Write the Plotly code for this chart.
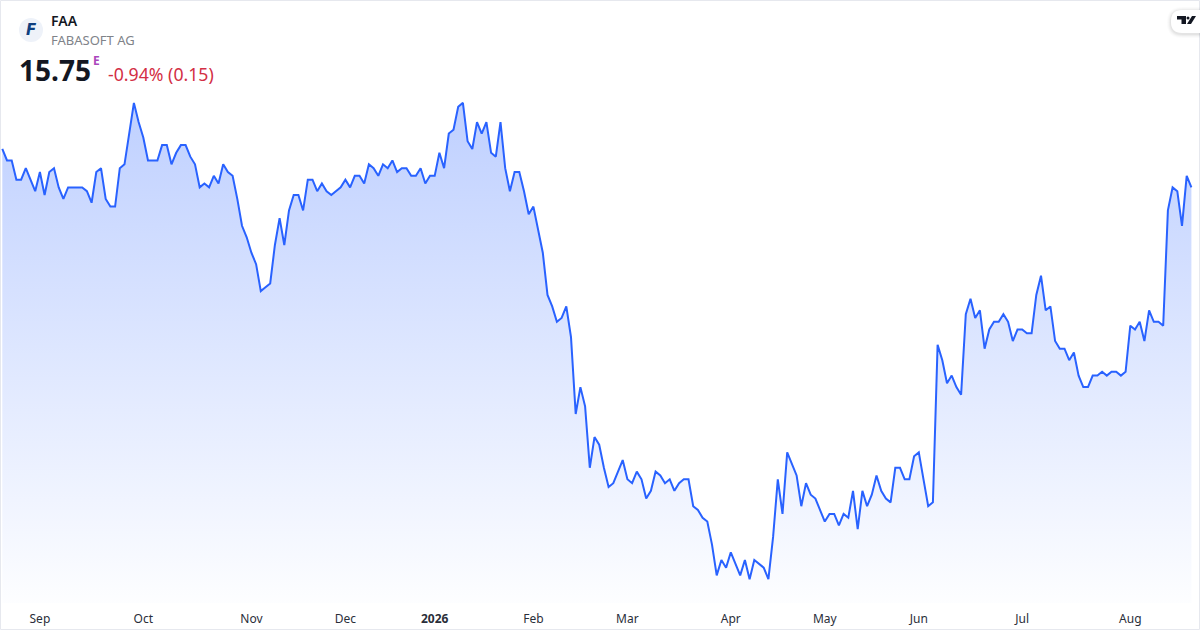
import plotly.graph_objects as go

# daily closes (0.05 price steps)
PRICES = [
    16.25, 16.10, 16.10, 15.85, 15.85, 16.00, 15.85, 15.70, 15.95, 15.65,
    15.95, 16.00, 15.75, 15.60, 15.75, 15.75, 15.75, 15.75, 15.70, 15.55,
    15.95, 16.00, 15.60, 15.50, 15.50, 16.00, 16.05, 16.45, 16.85, 16.60,
    16.40, 16.10, 16.10, 16.10, 16.30, 16.30, 16.05, 16.20, 16.30, 16.30,
    16.15, 16.05, 15.75, 15.80, 15.75, 15.90, 15.80, 16.05, 15.95, 15.90,
    15.60, 15.25, 15.10, 14.90, 14.75, 14.40, 14.45, 14.50, 15.00, 15.35,
    15.00, 15.45, 15.65, 15.65, 15.45, 15.85, 15.85, 15.70, 15.80, 15.70,
    15.65, 15.70, 15.75, 15.85, 15.75, 15.90, 15.90, 15.80, 16.05, 16.00,
    15.90, 16.05, 16.00, 16.10, 15.95, 16.00, 16.00, 15.90, 15.90, 16.00,
    15.80, 15.90, 15.90, 16.20, 16.00, 16.45, 16.50, 16.80, 16.85, 16.35,
    16.25, 16.60, 16.45, 16.60, 16.20, 16.15, 16.60, 16.00, 15.70, 15.95,
    15.95, 15.70, 15.40, 15.50, 15.20, 14.90, 14.35, 14.20, 14.00, 14.05,
    14.20, 13.80, 12.80, 13.15, 12.90, 12.10, 12.50, 12.40, 12.10, 11.85,
    11.90, 12.05, 12.20, 11.95, 11.90, 12.05, 11.95, 11.70, 11.80, 12.05,
    12.00, 11.90, 11.95, 11.80, 11.90, 11.95, 11.95, 11.60, 11.55, 11.45,
    11.40, 11.10, 10.70, 10.90, 10.80, 11.00, 10.85, 10.70, 10.90, 10.65,
    10.90, 10.85, 10.80, 10.65, 11.20, 11.95, 11.50, 12.30, 12.15, 12.00,
    11.60, 11.90, 11.75, 11.70, 11.55, 11.40, 11.50, 11.50, 11.35, 11.50,
    11.45, 11.80, 11.30, 11.80, 11.60, 11.75, 12.00, 11.80, 11.70, 11.65,
    12.10, 12.10, 11.95, 11.95, 12.25, 12.30, 11.95, 11.60, 11.65, 13.70,
    13.50, 13.20, 13.30, 13.15, 13.05, 14.10, 14.30, 14.05, 14.15, 13.65,
    13.90, 14.00, 14.00, 14.10, 14.00, 13.75, 13.90, 13.90, 13.85, 13.85,
    14.35, 14.60, 14.15, 14.20, 13.75, 13.65, 13.65, 13.50, 13.60, 13.30,
    13.15, 13.15, 13.30, 13.30, 13.35, 13.30, 13.35, 13.35, 13.30, 13.35,
    13.95, 13.90, 14.00, 13.75, 14.15, 14.00, 14.00, 13.95, 15.45, 15.75,
    15.70, 15.25, 15.90, 15.75,
]
TICK_DAYS = [8, 30, 53, 73, 92, 113, 133, 155, 175, 195, 217, 240]
TICK_LABELS = ["Sep", "Oct", "Nov", "Dec", "<b>2026</b>", "Feb", "Mar", "Apr", "May", "Jun", "Jul", "Aug"]
BASE_PRICE = 10.34

W, H = 1200, 630
PLOT_H = 603
FONT = "Noto Sans"
days = list(range(len(PRICES)))


def px(x):
    return x / W


def py(y):
    return (PLOT_H - y) / PLOT_H


def pt(x, y):
    return f"{px(x)},{py(y)}"


def polygon(points):
    return "M " + " L ".join(pt(x, y) for x, y in points) + " Z"


def badge(left, top, bottom, radius):
    # pill that runs off the right edge, rounded on the left side
    return (f"M {pt(1200, top)} L {pt(left + radius, top)} Q {pt(left, top)} {pt(left, top + radius)} "
            f"L {pt(left, bottom - radius)} Q {pt(left, bottom)} {pt(left + radius, bottom)} L {pt(1200, bottom)} Z")


def label(x, y, text, size, color, anchor="left", weight=400, italic=False, family=FONT):
    fig.add_annotation(
        xref="paper", yref="paper", x=px(x), y=py(y), text=text, showarrow=False,
        xanchor=anchor, yanchor="middle", borderpad=0,
        font=dict(family=family, size=size, color=color, weight=weight, style="italic" if italic else "normal"),
    )


fig = go.Figure()

# invisible baseline so the gradient stops at the bottom of the plot
fig.add_trace(go.Scatter(x=days, y=[BASE_PRICE] * len(days), mode="lines", line=dict(width=0), hoverinfo="skip"))
fig.add_trace(go.Scatter(
    x=days, y=PRICES, mode="lines", fill="tonexty",
    line=dict(color="#2962FF", width=2),
    fillgradient=dict(type="vertical", colorscale=[[0, "rgba(41,98,255,0.01)"], [1, "rgba(41,98,255,0.30)"]]),
))

fig.update_layout(
    width=W, height=H, showlegend=False,
    margin=dict(l=0, r=0, t=0, b=H - PLOT_H),
    paper_bgcolor="white", plot_bgcolor="white",
    xaxis=dict(
        range=[-0.489, 254.83], tickmode="array", tickvals=TICK_DAYS, ticktext=TICK_LABELS,
        showgrid=False, zeroline=False, showline=False, ticks="", ticklen=0, ticklabelstandoff=7,
        tickfont=dict(family=FONT, size=12, color="#2A2E39"),
    ),
    yaxis=dict(range=[BASE_PRICE, 18.189], visible=False),
)

# card border
fig.add_shape(type="rect", xref="paper", yref="paper", x0=px(0.5), x1=px(1199.5), y0=py(629.5), y1=py(0.5),
              line=dict(color="#E6E8EE", width=1), layer="above")

# logo
fig.add_shape(type="circle", xref="paper", yref="paper", x0=px(19), x1=px(43), y0=py(42), y1=py(18),
              fillcolor="#EEF2F9", line=dict(width=0))
label(31, 30, "F", 15, "#0F3F7F", anchor="center", weight=700, italic=True, family="DejaVu Sans")

label(50, 21, "FAA", 14, "#131722", weight=600)
label(50, 40, "FABASOFT AG", 13, "#808389")
label(18, 70, "15.75", 28, "#131722", weight=700)
label(92, 61, "E", 12, "#AB47BC", weight=700)
label(107, 74, "-0.94% (0.15)", 17.7, "#D32F45")

# TradingView badge
for grow, alpha in [(4, 0.015), (3, 0.02), (2, 0.03), (1, 0.04)]:
    fig.add_shape(type="path", xref="paper", yref="paper", path=badge(1171 - grow, 10 - grow + 1, 33 + grow + 1, 11 + grow),
                  fillcolor=f"rgba(0,0,0,{alpha})", line=dict(width=0))
fig.add_shape(type="path", xref="paper", yref="paper", path=badge(1171, 10, 33, 11), fillcolor="white", line=dict(width=0))
fig.add_shape(type="path", xref="paper", yref="paper", fillcolor="#131722", line=dict(width=0),
              path=polygon([(1177, 16), (1186, 16), (1186, 24), (1181.5, 24), (1181.5, 19.5), (1177, 19.5)]))
fig.add_shape(type="circle", xref="paper", yref="paper", x0=px(1186.5), x1=px(1189.5), y0=py(19.5), y1=py(16.5),
              fillcolor="#131722", line=dict(width=0))
fig.add_shape(type="path", xref="paper", yref="paper", fillcolor="#131722", line=dict(width=0),
              path=polygon([(1192, 16), (1196, 16), (1191, 24), (1187, 24)]))

# the page's default body margin would push the chart 8px in
fig.write_html("out.html", post_script="document.body.style.margin='0';", config=dict(displayModeBar=False))
